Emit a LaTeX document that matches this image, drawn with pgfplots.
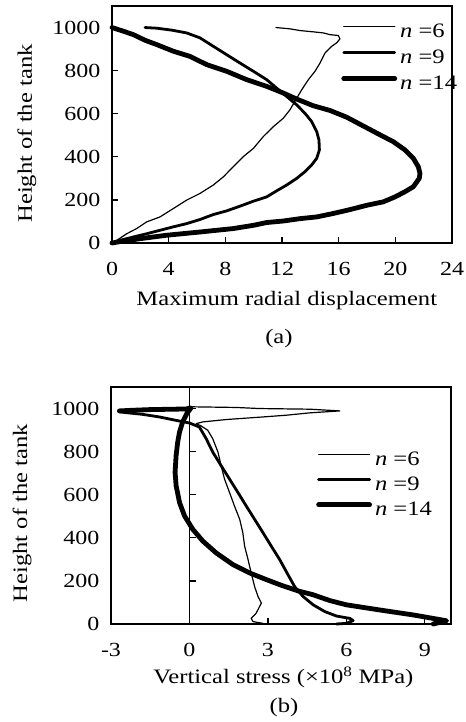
\documentclass[border=0pt]{standalone}
\usepackage{fontspec}
\setmainfont{Liberation Serif}[FakeStretch=1.2]
\usepackage{pgfplots}
\pgfplotsset{compat=1.18}

\newcommand{\tickfont}{\fontsize{20bp}{23bp}\selectfont}
\newcommand{\labfont}{\fontsize{20.5bp}{24bp}\selectfont}

\pgfplotsset{
  myaxis/.style={
    scale only axis, width=340bp, height=237bp,
    axis line style={line width=1.3bp},
    every tick/.style={line width=1.3bp, black},
    major tick length=6bp,
    tick align=inside,
    tick pos=left,
    /pgf/number format/assume math mode=true,
    /pgf/number format/1000 sep={},
    tick label style={font=\tickfont},
    label style={font=\labfont},
    xticklabel style={yshift=-16bp},
    yticklabel style={xshift=-8bp},
    ymin=0, ymax=1100, ytick={0,200,...,1000},
    legend style={draw=none, fill=none, inner sep=0pt, row sep=9bp, font=\fontsize{20.5bp}{23bp}\selectfont,
      nodes={inner xsep=3bp, inner ysep=0pt, text height=13bp, text depth=4bp}},
    legend image code/.code={\draw[##1] (0bp,6bp) -- (51bp,6bp);},
    legend cell align=left,
    clip=false,
  },
  s6/.style={black, line width=1.2bp, line join=round, line cap=round},
  s9/.style={black, line width=2.8bp, line join=round, line cap=round},
  s14/.style={black, line width=4.8bp, line join=round, line cap=round},
}

\begin{document}
\begin{tikzpicture}[font=\tickfont]
\useasboundingbox (0,0) rectangle (466bp,722bp);

% ---------------- (a) ----------------
\begin{axis}[myaxis,
  at={(112bp,479bp)}, anchor=south west,
  xmin=0, xmax=24, xtick={0,4,...,24},
  xlabel={Maximum radial displacement},
  ylabel={Height of the tank},
  xlabel style={at={(axis description cs:0.514,-0.2645)}, anchor=base},
  ylabel style={at={(axis description cs:-0.236,0.462)}, anchor=base},
  legend style={at={(axis description cs:0.674,0.924)}, anchor=north west},
]
\addplot[s6] coordinates {
(11.58,1000) (12.56,994) (13.27,986) (14.21,980) (14.92,975) (15.39,967)
(15.98,963) (16.09,947) (15.86,929) (15.51,913) (15.04,882) (14.68,835)
(14.33,797) (13.86,758) (13.39,711) (13.04,672) (12.56,618) (12.09,579)
(11.39,540) (10.68,494) (9.98,439) (9.27,401) (8.56,354) (7.86,307)
(7.15,269) (6.21,230) (5.27,199) (4.33,160) (3.39,121) (2.45,98)
(1.74,67) (1.04,43) (0.33,12) (0,0)};
\addlegendentry{\textit{n} =6}
\addplot[s9] coordinates {
(2.33,1000) (3.15,997) (4.21,988) (5.27,975) (6.21,952) (7.15,913)
(8.09,874) (9.04,835) (9.98,797) (10.92,758) (11.62,719) (12.33,680)
(13.04,641) (13.62,602) (14.09,564) (14.45,517) (14.61,478) (14.64,432)
(14.45,393) (14.09,362) (13.62,331) (13.04,300) (12.33,269) (11.62,242)
(10.92,214) (9.98,194) (9.04,171) (8.09,149) (7.15,132) (6.21,109)
(5.27,90) (4.33,75) (3.39,59) (2.45,43) (1.51,28) (0.56,12) (0,0)};
\addlegendentry{\textit{n} =9}
\addplot[s14] coordinates {
(0,1000) (0.80,983) (1.51,967) (2.33,941) (3.15,921) (4.33,890)
(5.51,866) (6.68,828) (8.09,797) (9.51,758) (10.92,727) (12.09,696)
(13.04,668) (14.21,637) (15.39,615) (16.56,584) (17.74,543) (18.92,502)
(19.86,470) (20.68,432) (21.27,393) (21.62,354) (21.74,323) (21.69,300)
(21.27,261) (20.68,238) (19.98,214) (19.15,191) (17.98,175) (16.80,155)
(15.62,137) (14.45,121) (13.27,113) (12.09,102) (10.92,95) (9.98,82)
(8.56,67) (6.21,51) (3.86,36) (1.98,20) (0.80,9) (0,0)};
\addlegendentry{\textit{n} =14}
\node[anchor=base, font=\labfont] at (axis description cs:0.491,-0.422) {(a)};
\end{axis}

% ---------------- (b) ----------------
\begin{axis}[myaxis,
  at={(111bp,98bp)}, anchor=south west,
  xmin=-3, xmax=10, xtick={-3,0,3,6,9}, xticklabels={-3,0,3,6,9},
  ytick style={draw=none},
  xlabel={Vertical stress (×10\textsuperscript{8} MPa)},
  ylabel={Height of the tank},
  xlabel style={at={(axis description cs:0.507,-0.253)}, anchor=base},
  ylabel style={at={(axis description cs:-0.247,0.468)}, anchor=base},
  legend style={at={(axis description cs:0.603,0.725)}, anchor=north west, row sep=8bp},
]
\draw[line width=1.2bp] (axis cs:0,0) -- (axis cs:0,1100);
\draw[line width=1.2bp] (axis cs:0,200) -- (axis cs:0.25,200);
\draw[line width=1.2bp] (axis cs:0,400) -- (axis cs:0.25,400);
\draw[line width=1.2bp] (axis cs:0,600) -- (axis cs:0.25,600);
\draw[line width=1.2bp] (axis cs:0,800) -- (axis cs:0.25,800);
\draw[line width=1.2bp] (axis cs:0,1000) -- (axis cs:0.25,1000);
\addplot[s6] coordinates {
(2.81,3) (2.43,11) (2.36,26) (2.55,50) (2.68,81) (2.75,97) (2.62,128)
(2.49,174) (2.36,237) (2.24,299) (2.11,361) (2.04,424) (1.92,486)
(1.72,548) (1.53,611) (1.34,673) (1.21,735) (1.09,798) (0.89,860)
(0.70,899) (0.45,919) (0.26,930) (0.51,938) (1.41,949) (2.81,961)
(3.70,969) (4.60,980) (5.75,989) (4.60,997) (2.68,1000) (1.79,1005) (0.13,1008)};
\addlegendentry{\textit{n} =6}
\addplot[s9] coordinates {
(5.62,0) (6.00,3) (6.26,16) (6.13,26) (5.62,37) (5.17,58) (4.73,89)
(4.34,128) (4.02,174) (3.73,237) (3.45,299) (3.13,361) (2.81,424)
(2.49,486) (2.17,548) (1.85,611) (1.53,673) (1.21,735) (0.89,798)
(0.64,860) (0.38,914) (0.0,933) (-0.51,945) (-1.15,961) (-1.79,973)
(-2.43,981) (-2.68,985)};
\addlegendentry{\textit{n} =9}
\addplot[s14] coordinates {
(9.32,0) (9.83,15) (8.56,42) (7.28,65) (6.00,89) (5.36,109) (4.72,136)
(4.20,152) (3.55,178) (2.94,206) (2.30,237) (1.66,276) (1.02,330)
(0.51,385) (0.13,439) (-0.19,502) (-0.38,564) (-0.51,642) (-0.55,704)
(-0.51,782) (-0.45,844) (-0.38,891) (-0.26,938) (-0.10,977) (0.06,1003)
(-0.13,998) (-1.53,995) (-2.17,992) (-2.68,989)};
\addlegendentry{\textit{n} =14}
\node[anchor=base, font=\labfont] at (axis description cs:0.509,-0.373) {(b)};
\end{axis}
\end{tikzpicture}
\end{document}
